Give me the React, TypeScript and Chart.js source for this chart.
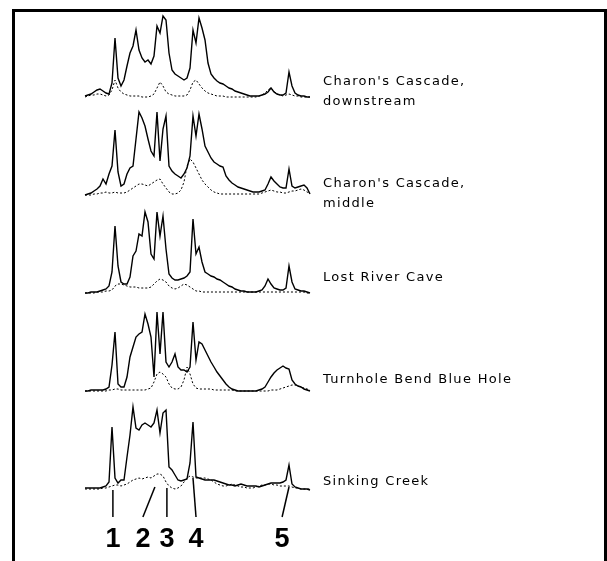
import React, { useEffect, useRef } from "react";
import { Chart, registerables } from "chart.js";

Chart.register(...registerables);

// Retention-time grid (min), one sample every 0.5 min
const TIMES: number[] = Array.from({ length: 76 }, (_, i) => i * 0.5);

const SITE_NAMES: string[][] = [
  ["Charon's Cascade,", "downstream"],
  ["Charon's Cascade,", "middle"],
  ["Lost River Cave"],
  ["Turnhole Bend Blue Hole"],
  ["Sinking Creek"],
];

// Main (solid) traces
const CC_DOWN_A = [2,3,4,6,8,9,7,5,4,15,60,20,12,18,32,45,52,68,48,40,36,38,34,42,72,65,82,78,45,28,24,22,20,18,20,30,68,55,80,70,58,35,24,20,17,15,14,12,10,9,7,6,5,4,3,2,2,2,2,3,4,6,10,6,4,3,3,5,26,12,5,3,2,2,1,1];
const CC_MID_A = [1,2,3,5,7,10,17,12,22,30,66,24,10,12,22,28,30,57,84,78,70,57,45,40,84,35,67,80,30,25,22,20,18,22,28,40,80,60,82,67,50,44,38,34,32,30,29,20,16,13,11,9,8,7,6,5,4,4,4,5,6,12,19,15,12,9,8,8,27,10,8,9,10,11,8,2];
const LOST_A = [1,1,2,2,2,3,4,5,8,22,68,28,12,10,10,17,38,43,60,58,82,72,40,35,82,58,78,45,20,16,14,14,15,16,18,22,75,40,47,32,22,20,18,17,15,14,12,10,8,7,5,4,3,3,2,2,2,2,3,4,8,15,10,6,5,4,4,6,28,12,5,4,3,3,2,1];
const TURN_A = [1,1,2,2,2,2,2,3,5,27,60,8,5,5,15,35,45,55,58,60,78,68,55,15,80,38,80,30,25,30,38,25,22,22,20,25,70,32,50,48,42,36,30,25,20,16,12,8,5,3,2,1,1,1,1,1,1,1,2,3,5,10,15,19,22,24,26,24,23,12,8,6,5,3,2,1];
const SINK_A = [2,2,2,2,2,2,3,4,8,63,12,7,10,10,33,55,83,62,60,65,67,65,63,67,80,57,77,80,23,20,15,10,9,10,11,27,68,13,12,11,10,10,10,10,9,8,7,6,5,5,4,5,6,5,4,4,4,4,3,4,5,6,7,7,7,7,8,10,25,6,3,2,1,1,1,0];

// Secondary (dashed) traces
const CC_DOWN_B = [1,2,3,3,4,4,3,2,3,8,18,10,6,4,3,2,2,2,2,1,1,1,2,4,10,16,12,6,4,3,2,2,2,2,3,8,16,18,14,10,7,5,4,3,2,2,2,1,1,1,1,1,1,1,1,1,1,1,2,3,5,8,10,7,4,3,2,3,4,3,2,2,1,1,1,1];
const CC_MID_B = [1,1,1,2,2,3,3,4,3,3,4,3,3,3,4,6,8,10,12,12,11,10,12,14,16,17,12,8,4,2,2,3,6,14,30,37,34,28,22,16,12,9,6,4,3,2,2,2,2,2,2,2,2,2,2,2,2,2,2,3,4,5,6,5,4,4,3,3,4,5,5,6,7,6,4,3];
const LOST_B = [1,1,1,1,2,2,2,3,3,4,8,10,10,9,8,7,7,7,6,6,6,6,7,10,13,15,14,12,8,6,5,6,8,10,9,7,5,3,3,2,2,2,2,2,2,2,2,2,2,2,2,2,2,2,2,2,2,2,2,2,2,2,2,2,2,2,2,2,2,2,2,2,2,2,1,1];
const TURN_B = [1,1,1,1,1,1,1,1,2,2,3,3,2,2,2,2,2,2,2,2,2,3,4,10,18,20,18,15,8,4,3,3,5,12,25,18,8,4,3,3,3,3,3,2,2,2,2,2,2,2,1,1,1,1,1,1,1,1,1,1,1,1,2,2,2,3,4,5,6,7,7,6,5,4,3,2];
const SINK_B = [1,1,1,1,1,1,2,2,3,4,5,5,4,5,6,8,10,11,12,11,12,13,12,14,16,16,14,8,4,2,1,2,4,8,12,14,13,12,12,12,12,11,10,8,6,5,4,4,5,6,5,4,3,3,2,2,2,3,4,5,5,6,6,5,5,4,4,4,4,3,2,2,1,1,1,1];

const MAIN_SERIES = [CC_DOWN_A, CC_MID_A, LOST_A, TURN_A, SINK_A];
const SECOND_SERIES = [CC_DOWN_B, CC_MID_B, LOST_B, TURN_B, SINK_B];

// Numbered peaks (min) marked under the Sinking Creek trace
const PEAK_NUMBERS = ["1", "2", "3", "4", "5"];
const PEAK_TIMES = [4.65, 11.65, 13.65, 18.0, 34.0];
const PEAK_TOPS = [0, 3, 2, 12, 3];
const NUMBER_TIMES = [4.65, 9.65, 13.65, 18.5, 32.85];

const SPACING = 98;

export default function App() {
  const ref = useRef<HTMLCanvasElement | null>(null);

  useEffect(() => {
    if (!ref.current) return;
    const n = MAIN_SERIES.length;
    const offset = (s: number) => (n - 1 - s) * SPACING;
    const datasets: any[] = [];
    MAIN_SERIES.forEach((vals, s) => {
      datasets.push({
        label: SITE_NAMES[s].join(" "),
        data: vals.map((v, i) => ({ x: TIMES[i], y: v + offset(s) })),
        borderColor: "#000",
        borderWidth: 1.4,
        pointRadius: 0,
        tension: 0,
        clip: false,
      });
      datasets.push({
        label: SITE_NAMES[s].join(" ") + " (2)",
        data: SECOND_SERIES[s].map((v, i) => ({ x: TIMES[i], y: v + offset(s) })),
        borderColor: "#000",
        borderWidth: 1,
        borderDash: [2, 2],
        pointRadius: 0,
        tension: 0,
        clip: false,
      });
    });

    const LABEL_LIFT = [-16, -12, -16, -12, -8];

    const decor = {
      id: "decor",
      afterDraw(chart: any) {
        const ctx = chart.ctx;
        const xs = chart.scales.x;
        const ys = chart.scales.y;
        ctx.save();
        // frame
        ctx.strokeStyle = "#000";
        ctx.lineWidth = 3;
        ctx.setLineDash([]);
        ctx.beginPath();
        ctx.moveTo(13.5, 600);
        ctx.lineTo(13.5, 10.5);
        ctx.lineTo(605.5, 10.5);
        ctx.lineTo(605.5, 600);
        ctx.stroke();

        // site labels
        ctx.fillStyle = "#000";
        ctx.font = "13px 'DejaVu Sans'";
        (ctx as any).letterSpacing = "1.3px";
        ctx.textBaseline = "middle";
        ctx.textAlign = "left";
        const lx = chart.chartArea.right + 13;
        SITE_NAMES.forEach((lines, s) => {
          const base = ys.getPixelForValue(offset(s));
          lines.forEach((t, k) => {
            ctx.fillText(t, lx, base + LABEL_LIFT[s] + k * 20);
          });
        });
        (ctx as any).letterSpacing = "0px";

        // peak markers
        const base5 = offset(n - 1);
        ctx.lineWidth = 1.5;
        ctx.font = "bold 27px 'Liberation Sans'";
        ctx.textAlign = "center";
        ctx.textBaseline = "alphabetic";
        PEAK_NUMBERS.forEach((num, k) => {
          const x1 = xs.getPixelForValue(PEAK_TIMES[k]);
          const y1 = ys.getPixelForValue(base5 + PEAK_TOPS[k]);
          const x2 = xs.getPixelForValue(NUMBER_TIMES[k]);
          const y2 = ys.getPixelForValue(base5 - 27);
          ctx.beginPath();
          ctx.moveTo(x1, y1);
          ctx.lineTo(x2, y2);
          ctx.stroke();
          ctx.fillText(num, x2, ys.getPixelForValue(base5 - 57));
        });
        ctx.restore();
      },
    };

    const chart = new Chart(ref.current, {
      type: "line",
      data: { datasets },
      options: {
        animation: false,
        responsive: false,
        maintainAspectRatio: false,
        layout: { padding: { left: 85, right: 297, top: 0, bottom: 0 } },
        plugins: { legend: { display: false }, tooltip: { enabled: false } },
        scales: {
          x: { type: "linear", min: 0, max: 37.5, display: false },
          y: { type: "linear", min: -71, max: 490, display: false },
        },
      },
      plugins: [decor],
    });
    return () => chart.destroy();
  }, []);

  return (
    <div style={{ position: "fixed", left: 0, top: 0, width: 607, height: 561, background: "#fff" }}>
      <canvas ref={ref} width={607} height={561} style={{ display: "block" }} />
    </div>
  );
}
